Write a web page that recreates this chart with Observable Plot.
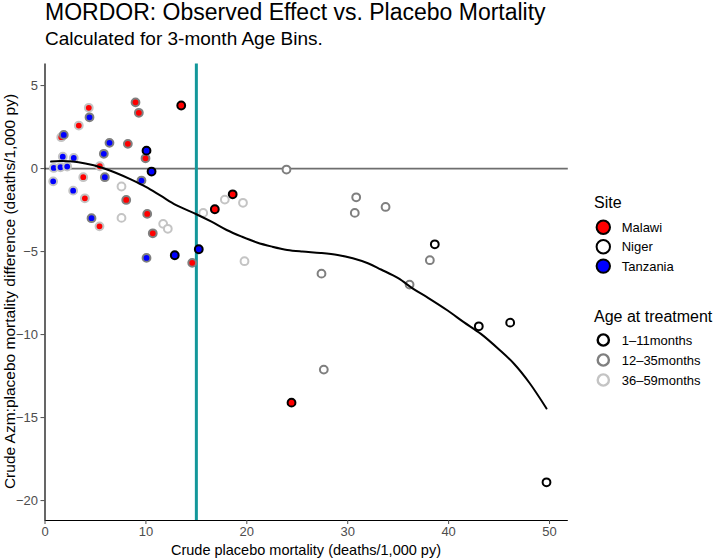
<!DOCTYPE html>
<html>
<head>
<meta charset="utf-8">
<script src="https://cdn.jsdelivr.net/npm/d3@7"></script>
<script src="https://cdn.jsdelivr.net/npm/@observablehq/plot@0.6"></script>
<style>
  body { margin: 0; background: #fff; }
  #wrap { position: relative; width: 717px; height: 558px; overflow: hidden; background: #fff;
          font-family: "Liberation Sans", Arial, sans-serif; }
  #wrap > svg { position: absolute; left: 0; top: 0; }
</style>
</head>
<body>
<div id="wrap"></div>
<script>
// ---------- data ----------
const sites = ["Malawi", "Niger", "Tanzania"];
const siteFill = ["#FF0000", "#FFFFFF", "#0000FF"];
const ages = ["1–11months", "12–35months", "36–59months"];
const ageStroke = ["#000000", "#7F7F7F", "#C4C4C4"];

const malawiX = [4.34, 3.35, 1.61, 8.97, 9.30, 8.21, 9.96, 5.43, 3.79, 3.95, 8.05, 10.13, 5.40, 10.68, 13.50, 18.60, 16.83, 14.59, 24.43];
const malawiY = [3.66, 2.59, 1.89, 3.99, 3.36, 1.49, 0.62, 0.14, -0.52, -1.79, -1.89, -2.73, -3.48, -3.90, 3.80, -1.55, -2.45, -5.68, -14.10];
const malawiAge = [2, 2, 2, 1, 1, 1, 1, 2, 2, 2, 1, 1, 2, 1, 0, 0, 0, 1, 0];

const nigerX = [7.58, 7.58, 11.71, 12.17, 17.82, 19.62, 15.68, 19.77, 23.93, 30.84, 30.70, 33.75, 27.40, 27.63, 38.14, 36.13, 38.63, 42.99, 46.10, 49.70];
const nigerY = [-1.08, -2.97, -3.33, -3.63, -1.87, -2.06, -2.67, -5.58, -0.06, -1.73, -2.67, -2.31, -6.33, -12.11, -5.52, -6.99, -4.56, -9.50, -9.28, -18.90];
const nigerAge = [2, 2, 2, 2, 2, 2, 2, 2, 1, 1, 1, 1, 1, 1, 1, 1, 0, 0, 0, 0];

const tanzaniaX = [4.41, 1.86, 6.39, 5.83, 1.76, 2.85, 10.06, 0.87, 1.54, 2.20, 10.56, 0.81, 5.93, 9.56, 2.79, 4.61, 10.06, 12.86, 15.24];
const tanzaniaY = [3.09, 2.03, 1.55, 0.89, 0.72, 0.64, 1.08, 0.04, 0.08, 0.12, -0.18, -0.77, -0.52, -0.72, -1.33, -2.99, -5.38, -5.22, -4.86];
const tanzaniaAge = [1, 1, 1, 1, 2, 2, 0, 2, 2, 2, 0, 2, 1, 1, 2, 1, 1, 0, 0];

const smoothX = [0.6, 1.5, 2.8, 4, 5.5, 7, 8.5, 10, 11.5, 13, 15, 16.5, 18, 19.5, 21, 22.5, 24, 25.5, 27.3, 29, 30.5, 32, 33.3, 35, 36.5, 38, 39.9, 41.5, 43.2, 45, 46.5, 48, 49.7];
const smoothY = [0.42, 0.45, 0.42, 0.30, 0.08, -0.25, -0.65, -1.10, -1.65, -2.20, -2.75, -3.20, -3.70, -4.10, -4.45, -4.70, -4.90, -5.00, -5.08, -5.20, -5.40, -5.70, -6.08, -6.60, -7.25, -7.80, -8.55, -9.25, -9.96, -10.90, -11.77, -12.90, -14.45];

const thresholdX = [15];
const zeroY = [0];
const xTicks = [0, 10, 20, 30, 40, 50];
const yTicks = [-20, -15, -10, -5, 0, 5];
const xDomain = [0, 51.86];
const yDomain = [-21.2, 6.3];

const titleText = "MORDOR: Observed Effect vs. Placebo Mortality";
const subtitleText = "Calculated for 3-month Age Bins.";
const xLabel = "Crude placebo mortality (deaths/1,000 py)";
const yLabel = "Crude Azm:placebo mortality difference (deaths/1,000 py)";
const siteTitle = "Site";
const ageTitle = "Age at treatment";

// ---------- build rows ----------
const rows = [];
[[malawiX, malawiY, malawiAge, 0], [nigerX, nigerY, nigerAge, 1], [tanzaniaX, tanzaniaY, tanzaniaAge, 2]]
  .forEach(([xs, ys, as, s]) => xs.forEach((x, i) => rows.push({x, y: ys[i], site: sites[s], age: ages[as[i]]})));
const smooth = smoothX.map((x, i) => ({x, y: smoothY[i]}));

const W = 717, H = 558;
const chart = Plot.plot({
  width: W, height: H,
  marginTop: 63.5, marginBottom: 38, marginLeft: 44.5, marginRight: 149.2,
  style: {fontFamily: '"Liberation Sans", Arial, sans-serif', fontSize: "13px", background: "transparent", overflow: "visible"},
  x: {domain: xDomain, ticks: xTicks, label: null},
  y: {domain: yDomain, ticks: yTicks, label: null},
  color: {domain: [...sites, ...ages], range: [...siteFill, ...ageStroke]},
  marks: [
    Plot.ruleY(zeroY, {stroke: "#6E6E6E", strokeWidth: 1.6}),
    Plot.ruleX(thresholdX, {stroke: "#13979A", strokeWidth: 3}),
    Plot.dot(rows, {x: "x", y: "y", r: 3.9, fill: "site", stroke: "age", strokeWidth: 2}),
    Plot.line(smooth, {x: "x", y: "y", curve: "catmull-rom", stroke: "#000", strokeWidth: 2}),
    Plot.ruleX([xDomain[0]], {stroke: "#000", strokeWidth: 1.2}),
    Plot.ruleY([yDomain[0]], {stroke: "#000", strokeWidth: 1.2}),
    Plot.axisX({ticks: xTicks, tickSize: 4, tickPadding: 2, color: "#4D4D4D", label: null, fontSize: 13}),
    Plot.axisY({ticks: yTicks, tickSize: 4, tickPadding: 3, color: "#4D4D4D", label: null, fontSize: 13})
  ]
});
document.getElementById("wrap").appendChild(chart);

// ---------- overlay: titles and legend ----------
const svg = d3.select("#wrap").append("svg")
  .attr("width", W).attr("height", H)
  .style("font-family", '"Liberation Sans", Arial, sans-serif')
  .style("pointer-events", "none");

svg.append("text").attr("x", 45).attr("y", 20).attr("font-size", 23).attr("fill", "#000").text(titleText);
svg.append("text").attr("x", 45).attr("y", 45).attr("font-size", 19).attr("fill", "#000").text(subtitleText);
svg.append("text").attr("x", 306).attr("y", 554.5).attr("text-anchor", "middle").attr("font-size", 14.5).attr("fill", "#000").text(xLabel);
svg.append("text").attr("transform", "translate(15,291.5) rotate(-90)").attr("text-anchor", "middle")
  .attr("font-size", 15.5).attr("fill", "#000").text(yLabel);

// Site legend
svg.append("text").attr("x", 594).attr("y", 208.3).attr("font-size", 16).attr("fill", "#000").text(siteTitle);
sites.forEach((s, i) => {
  const cy = 227.3 + i * 19.4;
  svg.append("circle").attr("cx", 603.3).attr("cy", cy).attr("r", 6.7)
    .attr("fill", siteFill[i]).attr("stroke", "#000").attr("stroke-width", 2);
  svg.append("text").attr("x", 621.7).attr("y", cy + 4.6).attr("font-size", 13).attr("fill", "#000").text(s);
});
// Age legend
svg.append("text").attr("x", 594).attr("y", 322).attr("font-size", 16).attr("fill", "#000").text(ageTitle);
ages.forEach((a, i) => {
  const cy = 340 + i * 20;
  svg.append("circle").attr("cx", 603.3).attr("cy", cy).attr("r", 5.6)
    .attr("fill", "#fff").attr("stroke", ageStroke[i]).attr("stroke-width", 2.4);
  svg.append("text").attr("x", 621.7).attr("y", cy + 4.6).attr("font-size", 13).attr("fill", "#000").text(a);
});
</script>
</body>
</html>
